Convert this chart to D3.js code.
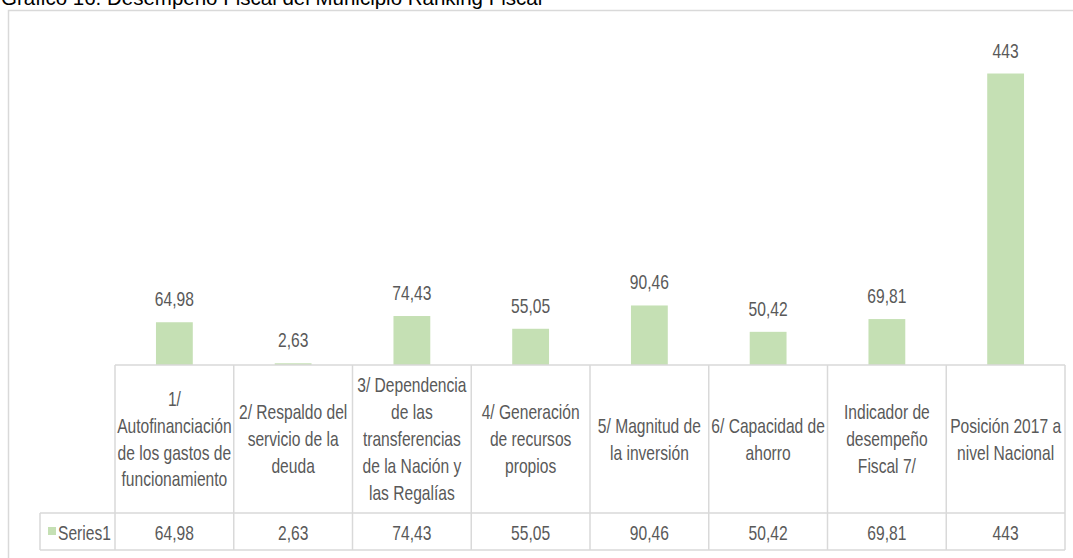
<!DOCTYPE html>
<html>
<head>
<meta charset="utf-8">
<script src="https://cdn.jsdelivr.net/npm/d3@7"></script>
<style>
  html, body { margin: 0; padding: 0; background: #fff; }
  svg { display: block; }
  .cell-text { font-family: "Liberation Sans", Arial, sans-serif; font-size: 20px; fill: #595959; }
</style>
</head>
<body>
<svg id="chart" width="1073" height="558"></svg>
<script>
// Chart data
const categories = [
  ['1/', 'Autofinanciación', 'de los gastos de', 'funcionamiento'],
  ['2/ Respaldo del', 'servicio de la', 'deuda'],
  ['3/ Dependencia', 'de las', 'transferencias', 'de la Nación y', 'las Regalías'],
  ['4/ Generación', 'de recursos', 'propios'],
  ['5/ Magnitud de', 'la inversión'],
  ['6/ Capacidad de', 'ahorro'],
  ['Indicador de', 'desempeño', 'Fiscal 7/'],
  ['Posición 2017 a', 'nivel Nacional']
];
const values = [64.98, 2.63, 74.43, 55.05, 90.46, 50.42, 69.81, 443];
const valueLabels = ['64,98', '2,63', '74,43', '55,05', '90,46', '50,42', '69,81', '443'];
const seriesName = 'Series1';
const titleText = 'Gráfico 16. Desempeño Fiscal del Municipio Ranking Fiscal';

const svg = d3.select('#chart');
const barColor = '#c5e0b4';
const gridColor = '#d9d9d9';

// Narrow look of the original font: squeeze the text horizontally
const squeeze = 0.78;

// Plot layout
const plot = { left: 115, right: 1065, top: 36, base: 365 };
const headerBottom = 513;
const rowBottom = 550;
const legendLeft = 40;

// Title (cropped at the top in the original)
svg.append('text')
  .attr('x', 1)
  .attr('y', 5)
  .style('font-family', '"Liberation Sans", Arial, sans-serif')
  .style('font-size', '20.5px')
  .attr('fill', '#000')
  .text(titleText);

// Chart frame
svg.append('rect')
  .attr('x', 8.5)
  .attr('y', 10.5)
  .attr('width', 1100)
  .attr('height', 600)
  .attr('fill', 'none')
  .attr('stroke', gridColor)
  .attr('stroke-width', 1.5);

const x = d3.scaleBand()
  .domain(d3.range(categories.length))
  .range([plot.left, plot.right])
  .paddingInner(0)
  .paddingOuter(0);

const y = d3.scaleLinear()
  .domain([0, 500])
  .range([plot.base, plot.top]);

const barW = x.bandwidth() * 0.31;
const cx = i => x(i) + x.bandwidth() / 2;

// Bars
svg.append('g')
  .selectAll('rect')
  .data(values)
  .join('rect')
  .attr('x', (d, i) => x(i) + (x.bandwidth() - barW) / 2)
  .attr('y', d => y(d))
  .attr('width', barW)
  .attr('height', d => y(0) - y(d))
  .attr('fill', barColor);

// Data labels above bars
svg.append('g')
  .selectAll('text')
  .data(values)
  .join('text')
  .attr('class', 'cell-text')
  .attr('transform', (d, i) => `translate(${cx(i)}, ${y(d) - 16}) scale(${squeeze}, 1)`)
  .attr('text-anchor', 'middle')
  .text((d, i) => valueLabels[i]);

// Data table grid
const grid = svg.append('g')
  .attr('stroke', gridColor)
  .attr('stroke-width', 1.5)
  .attr('fill', 'none');

// horizontal lines
grid.append('line').attr('x1', plot.left).attr('x2', plot.right).attr('y1', plot.base).attr('y2', plot.base);
grid.append('line').attr('x1', legendLeft).attr('x2', plot.right).attr('y1', headerBottom).attr('y2', headerBottom);
grid.append('line').attr('x1', legendLeft).attr('x2', plot.right).attr('y1', rowBottom).attr('y2', rowBottom);
grid.append('line').attr('x1', legendLeft).attr('x2', legendLeft).attr('y1', headerBottom).attr('y2', rowBottom);

// vertical lines at band edges
grid.selectAll('line.v')
  .data(d3.range(categories.length + 1))
  .join('line')
  .attr('class', 'v')
  .attr('x1', i => i < categories.length ? x(i) : plot.right)
  .attr('x2', i => i < categories.length ? x(i) : plot.right)
  .attr('y1', plot.base)
  .attr('y2', rowBottom);

// Category headers
const lineH = 27;
const headerMid = (plot.base + headerBottom) / 2;
const headers = svg.append('g')
  .selectAll('text')
  .data(categories)
  .join('text')
  .attr('class', 'cell-text')
  .attr('text-anchor', 'middle')
  .attr('transform', (d, i) => `translate(${cx(i)}, ${headerMid + 7}) scale(${squeeze}, 1)`);

headers.selectAll('tspan')
  .data(d => d.map((line, j) => ({ line, j, n: d.length })))
  .join('tspan')
  .attr('x', 0)
  .attr('y', d => (d.j - (d.n - 1) / 2) * lineH)
  .text(d => d.line);

// Values row
const rowBase = (headerBottom + rowBottom) / 2 + 8;
svg.append('g')
  .selectAll('text')
  .data(values)
  .join('text')
  .attr('class', 'cell-text')
  .attr('transform', (d, i) => `translate(${cx(i)}, ${rowBase}) scale(${squeeze}, 1)`)
  .attr('text-anchor', 'middle')
  .text((d, i) => valueLabels[i]);

// Legend key + series name
svg.append('rect')
  .attr('x', 48)
  .attr('y', 527)
  .attr('width', 8)
  .attr('height', 8)
  .attr('fill', barColor);

svg.append('text')
  .attr('class', 'cell-text')
  .attr('transform', `translate(58, ${rowBase}) scale(${squeeze}, 1)`)
  .text(seriesName);
</script>
</body>
</html>
